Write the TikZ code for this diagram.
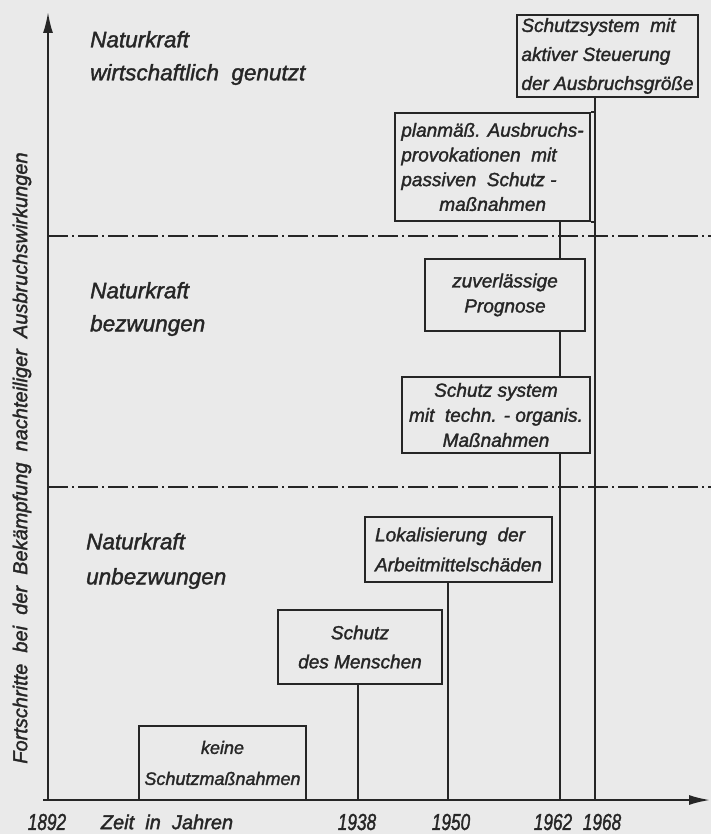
\documentclass[tikz,border=0pt]{standalone}
\usepackage{fontspec}
\setmainfont{Liberation Sans}[ItalicFeatures={FakeBold=1.6}]
\usepackage{graphicx}
\usetikzlibrary{arrows.meta}
\definecolor{paper}{RGB}{234,234,234}
\definecolor{ink}{RGB}{38,38,38}
\newcommand\bfs[2]{\itshape\fontsize{#1}{#2}\selectfont}
\newcommand\yr[1]{\scalebox{0.75}[1]{#1}}
\tikzset{
  box/.style={draw=ink, line width=2pt, text=ink, inner sep=0pt},
  lbl/.style={text=ink, anchor=west, align=left, inner sep=0pt, font=\bfs{22.5}{33}},
  conn/.style={draw=ink, line width=1.8pt},
  axisline/.style={draw=ink, line width=2pt, -{Latex[length=21pt,width=10pt]}},
  dashdot/.style={draw=ink, line width=1.6pt, dash pattern=on 20pt off 4pt on 2pt off 4pt},
  year/.style={text=ink, inner sep=0pt, font=\bfs{23}{24}},
}
\begin{document}
\begin{tikzpicture}[x=1pt,y=-1pt]
\fill[paper] (0,0) rectangle (711,834);
\useasboundingbox (0,0) rectangle (711,834);

% axes
\coordinate (origin) at (48,800);
\coordinate (xstart) at (43,800);
\coordinate (yend) at (48,12);
\coordinate (xend) at (710,800);
\draw[axisline] (origin) -- (yend);
\draw[axisline] (xstart) -- (xend);

% dash-dot separators
\coordinate (d1a) at (48,236);
\coordinate (d1b) at (711,236);
\coordinate (d2a) at (48,487);
\coordinate (d2b) at (711,487);
\draw[dashdot] (d1a) -- (d1b);
\draw[dashdot] (d2a) -- (d2b);

% axis points for years
\coordinate (t1938) at (358,800);
\coordinate (t1950) at (448,800);
\coordinate (t1962) at (560,800);
\coordinate (t1968) at (595,800);

% boxes
\node[box, minimum width=167pt, minimum height=74pt, align=center, font=\bfs{18}{31}] (b1) at (222.5,763) {keine\\Schutzmaßnahmen};
\node[box, minimum width=164pt, minimum height=74pt, align=center, font=\bfs{19}{29}] (b2) at (360,647) {Schutz\\des Menschen};
\node[box, minimum width=187pt, minimum height=65pt, align=left, font=\bfs{19}{30}] (b3) at (458.5,549.5) {Lokalisierung\ \ der\\Arbeitmittelschäden};
\node[box, minimum width=188pt, minimum height=76pt, align=center, font=\bfs{19}{25}] (b4) at (496,415) {Schutz system\\mit\ \ techn. - organis.\\Maßnahmen};
\node[box, minimum width=160pt, minimum height=72pt, align=center, font=\bfs{19}{25}] (b5) at (505,295) {zuverlässige\\Prognose};
\node[box, minimum width=195pt, minimum height=108pt, align=left, font=\bfs{19}{24.7}] (b6) at (492.5,167) {planmäß. Ausbruchs-\\provokationen\ \ mit\\passiven\ \ Schutz -\\\hspace*{2em}maßnahmen};
\node[box, minimum width=181pt, minimum height=82pt, align=left, font=\bfs{19}{29}] (b7) at (607.5,56) {Schutzsystem\ \ mit\\aktiver Steuerung\\der Ausbruchsgröße};

% connectors
\draw[conn] (b2.south -| t1938) -- (t1938);
\draw[conn] (b3.south -| t1950) -- (t1950);
\draw[conn] (b6.south -| t1962) -- (b5.north -| t1962);
\draw[conn] (b5.south -| t1962) -- (b4.north -| t1962);
\draw[conn] (b4.south -| t1962) -- (t1962);
\draw[conn] (b7.south -| t1968) -- (t1968);
\draw[conn] (b6.north east) -- (b6.north east -| t1968);
\draw[conn] (b6.south east) -- (b6.south east -| t1968);

% side labels
\node[lbl] (n1) at (90,58) {Naturkraft\\wirtschaftlich\ \ genutzt};
\node[lbl] (n2) at (90,309) {Naturkraft\\bezwungen};
\node[lbl, font=\bfs{22.5}{35}] (n3) at (86,561) {Naturkraft\\unbezwungen};

% y-axis label
\node[text=ink, rotate=90, inner sep=0pt, font=\bfs{20}{24}] (ylab) at (22,458) {Fortschritte\ \ bei\ \ der\ \ Bekämpfung\ \ nachteiliger\ \ Ausbruchswirkungen};

% x-axis labels
\node[year] (y1892) at (47,822) {\yr{1892}};
\node[year, font=\bfs{20}{24}] (xlab) at (167,822) {Zeit\ \ in\ \ Jahren};
\node[year] (y1938) at (357,822) {\yr{1938}};
\node[year] (y1950) at (451,822) {\yr{1950}};
\node[year] (y1962) at (553,822) {\yr{1962}};
\node[year] (y1968) at (602,822) {\yr{1968}};
\end{tikzpicture}
\end{document}
